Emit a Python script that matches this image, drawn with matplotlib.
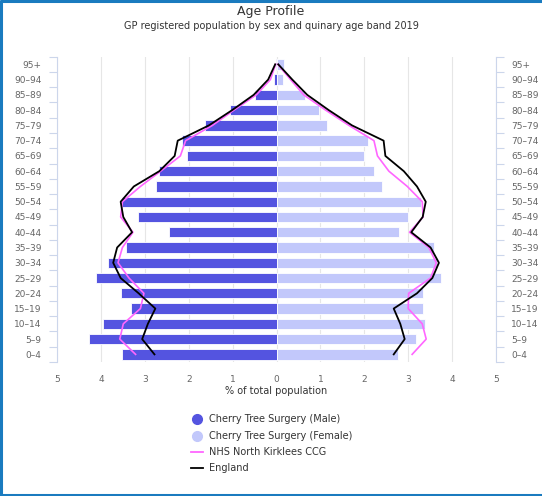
import matplotlib
matplotlib.use("Agg")
import matplotlib.pyplot as plt
import numpy as np
from matplotlib.lines import Line2D

ages = ['0–4', '5–9', '10–14', '15–19', '20–24', '25–29', '30–34', '35–39', '40–44',
        '45–49', '50–54', '55–59', '60–64', '65–69', '70–74', '75–79', '80–84',
        '85–89', '90–94', '95+']

male = [3.51, 4.27, 3.96, 3.31, 3.55, 4.11, 3.84, 3.43, 2.44, 3.15, 3.52, 2.75,
        2.67, 2.05, 2.15, 1.62, 1.06, 0.50, 0.06, 0.02]
female = [2.76, 3.17, 3.38, 3.33, 3.33, 3.74, 3.66, 3.58, 2.80, 3.00, 3.30, 2.41,
          2.22, 1.99, 2.09, 1.15, 0.97, 0.66, 0.14, 0.18]
ccg_male = [3.21, 3.57, 3.49, 3.10, 3.02, 3.36, 3.61, 3.51, 3.27, 3.55, 3.51, 3.10,
            2.64, 2.19, 2.07, 1.46, 0.97, 0.46, 0.14, 0.02]
ccg_female = [3.09, 3.41, 3.32, 3.00, 3.01, 3.51, 3.64, 3.47, 3.03, 3.34, 3.32, 2.98,
              2.56, 2.30, 2.22, 1.65, 1.12, 0.62, 0.32, 0.03]
eng_male = [2.78, 3.06, 2.93, 2.76, 3.14, 3.55, 3.72, 3.63, 3.29, 3.49, 3.55, 3.25,
            2.67, 2.32, 2.25, 1.54, 1.01, 0.52, 0.19, 0.03]
eng_female = [2.67, 2.92, 2.82, 2.67, 3.20, 3.55, 3.70, 3.51, 3.07, 3.33, 3.40, 3.20,
              2.90, 2.48, 2.44, 1.72, 1.19, 0.70, 0.36, 0.04]

x_ticks = [-5, -4, -3, -2, -1, 0, 1, 2, 3, 4, 5]
x_tick_labels = ['5', '4', '3', '2', '1', '0', '1', '2', '3', '4', '5']

title = 'Age Profile'
subtitle = 'GP registered population by sex and quinary age band 2019'
x_title = '% of total population'
legend_labels = ['Cherry Tree Surgery (Male)', 'Cherry Tree Surgery (Female)',
                 'NHS North Kirklees CCG', 'England']

MALE_C = '#5454e0'
FEMALE_C = '#c2c8fb'
CCG_C = '#ff66ff'
ENG_C = '#000000'
AXIS_C = '#ccd6eb'
GRID_C = '#e6e6e6'
TXT_C = '#666666'

W, H = 542, 496
fig = plt.figure(figsize=(W / 100, H / 100), dpi=100)
fig.patch.set_facecolor('white')

def px(x0, y0, x1, y1):
    return [x0 / W, 1 - y1 / H, (x1 - x0) / W, (y1 - y0) / H]

ax = fig.add_axes(px(57, 56.7, 496, 362))
y = np.arange(len(ages))
ax.set_xlim(-5, 5)
ax.set_ylim(-0.5, len(ages) - 0.5)

for t in x_ticks:
    ax.axvline(t, color=GRID_C, lw=0.8, zorder=0)

ax.barh(y, -np.array(male), height=0.68, color=MALE_C, edgecolor='white', lw=0.6, zorder=2)
ax.barh(y, female, height=0.68, color=FEMALE_C, edgecolor='white', lw=0.6, zorder=2)

ax.plot(-np.array(ccg_male), y, color=CCG_C, lw=1.2, zorder=3)
ax.plot(ccg_female, y, color=CCG_C, lw=1.2, zorder=3)
ax.plot(-np.array(eng_male), y, color=ENG_C, lw=1.3, zorder=4)
ax.plot(eng_female, y, color=ENG_C, lw=1.3, zorder=4)

ax.set_xticks(x_ticks)
ax.set_xticklabels(x_tick_labels, color=TXT_C, fontsize=6.5)
ax.tick_params(axis='x', length=0, pad=9)

for s in ['top', 'bottom']:
    ax.spines[s].set_visible(False)
for s in ['left', 'right']:
    ax.spines[s].set_color(AXIS_C)
    ax.spines[s].set_linewidth(0.8)

bounds = np.arange(len(ages) + 1) - 0.5
ax.set_yticks(y)
ax.set_yticklabels(ages, color=TXT_C, fontsize=6.5)
ax.set_yticks(bounds, minor=True)
ax.tick_params(axis='y', which='major', length=0, pad=11)
ax.tick_params(axis='y', which='minor', length=6, color=AXIS_C, width=0.8, direction='out')
ax.tick_params(axis='y', which='both', right=True, labelright=True)
for lab in ax.get_yticklabels(which='major'):
    pass
ax.set_facecolor('white')

ov = fig.add_axes([0, 0, 1, 1], facecolor='none')
ov.set_xlim(0, W)
ov.set_ylim(H, 0)
ov.axis('off')

ov.text(271, 12, title, ha='center', va='center', fontsize=9, color='#333333')
ov.text(271, 26, subtitle, ha='center', va='center', fontsize=7, color='#333333')
ov.text(276, 391, x_title, ha='center', va='center', fontsize=7, color='#333333')

rows = [419, 436, 452, 468]
ov.plot([197], [rows[0]], marker='o', ms=7, color=MALE_C, ls='none')
ov.plot([197], [rows[1]], marker='o', ms=7, color=FEMALE_C, ls='none')
ov.plot([191, 203], [rows[2], rows[2]], color=CCG_C, lw=1.3)
ov.plot([191, 203], [rows[3], rows[3]], color=ENG_C, lw=1.3)
for r, lab in zip(rows, legend_labels):
    ov.text(209, r, lab, ha='left', va='center', fontsize=7, color='#333333')

bc = '#1a7bbf'
ov.plot([1, 1], [0, H], color=bc, lw=2.2, solid_capstyle='butt')
ov.plot([0, W], [1, 1], color=bc, lw=2.2, solid_capstyle='butt')
ov.plot([0, W], [495, 495], color=bc, lw=2.2, solid_capstyle='butt')

fig.savefig('out.png', dpi=100)
